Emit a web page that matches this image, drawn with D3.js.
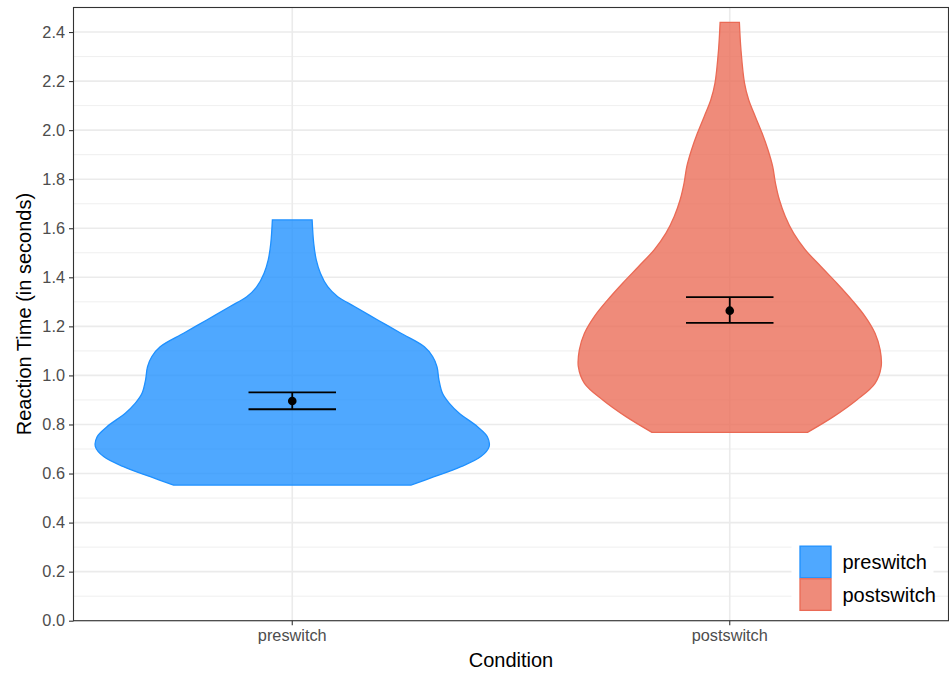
<!DOCTYPE html>
<html>
<head>
<meta charset="utf-8">
<script src="https://cdn.jsdelivr.net/npm/d3@7"></script>
<style>
  html, body { margin: 0; padding: 0; background: #fff; }
  svg { display: block; font-family: "Liberation Sans", Arial, Helvetica, sans-serif; }
</style>
</head>
<body>
<svg id="chart" width="949" height="675"></svg>
<script>
// Conditions shown on the x axis
const conditions = ["preswitch", "postswitch"];

// Violin outlines: reaction time (s) and relative density at that time
const preswitchRT = [1.634, 1.539, 1.471, 1.417, 1.362, 1.321, 1.281, 1.226, 1.172, 1.117, 1.077, 1.036,
                     0.982, 0.927, 0.887, 0.846, 0.791, 0.750, 0.710, 0.669, 0.628, 0.587, 0.553];
const preswitchDensity = [0.101, 0.109, 0.122, 0.143, 0.180, 0.231, 0.316, 0.434, 0.552, 0.671, 0.713, 0.735,
                          0.745, 0.763, 0.797, 0.848, 0.941, 0.991, 1.000, 0.958, 0.857, 0.721, 0.603];

const postswitchRT = [2.439, 2.327, 2.192, 2.124, 2.055, 1.988, 1.920, 1.852, 1.784, 1.716, 1.648, 1.580,
                      1.512, 1.444, 1.376, 1.308, 1.240, 1.172, 1.104, 1.036, 0.968, 0.900, 0.832, 0.768];
const postswitchDensity = [0.049, 0.057, 0.075, 0.096, 0.130, 0.164, 0.194, 0.218, 0.232, 0.252, 0.282, 0.324,
                           0.384, 0.463, 0.544, 0.620, 0.688, 0.738, 0.764, 0.769, 0.738, 0.645, 0.527, 0.395];

// Mean reaction time with lower / upper error bounds
const meanRT = [0.896, 1.264];
const lowerRT = [0.862, 1.214];
const upperRT = [0.931, 1.319];

// Y axis ticks
const yTicks = [0.0, 0.2, 0.4, 0.6, 0.8, 1.0, 1.2, 1.4, 1.6, 1.8, 2.0, 2.2, 2.4];
const yMinorTicks = [0.1, 0.3, 0.5, 0.7, 0.9, 1.1, 1.3, 1.5, 1.7, 1.9, 2.1, 2.3];

const fills = ["#1E90FF", "#EA6A55"];
const fillOpacity = 0.78;

const violins = [
  preswitchRT.map((v, i) => ({ v, d: preswitchDensity[i] })),
  postswitchRT.map((v, i) => ({ v, d: postswitchDensity[i] }))
];

const svg = d3.select("#chart");
const W = 949, H = 675;
const margin = { left: 73.5, top: 7.5, right: 0.5, bottom: 54.3 };
const pw = W - margin.left - margin.right;
const ph = H - margin.top - margin.bottom;

const g = svg.append("g").attr("transform", `translate(${margin.left},${margin.top})`);

const x = d3.scaleBand().domain(conditions).range([0, pw]).paddingInner(0).paddingOuter(0);
const y = d3.scaleLinear().domain([0, 2.5]).range([ph, 0]);
const w = d3.scaleLinear().domain([0, 1]).range([0, x.bandwidth() * 0.45]);
const cx = c => x(c) + x.bandwidth() / 2;

// Grid lines
g.append("g").selectAll("line").data(yMinorTicks).join("line")
  .attr("x1", 0).attr("x2", pw).attr("y1", d => y(d)).attr("y2", d => y(d))
  .attr("stroke", "#EBEBEB").attr("stroke-width", 0.8);
g.append("g").selectAll("line").data(yTicks).join("line")
  .attr("x1", 0).attr("x2", pw).attr("y1", d => y(d)).attr("y2", d => y(d))
  .attr("stroke", "#EBEBEB").attr("stroke-width", 1.6);
g.append("g").selectAll("line").data(conditions).join("line")
  .attr("x1", d => cx(d)).attr("x2", d => cx(d)).attr("y1", 0).attr("y2", ph)
  .attr("stroke", "#EBEBEB").attr("stroke-width", 1.6);

// Violins
violins.forEach((pts, i) => {
  const c = cx(conditions[i]);
  const area = d3.area()
    .y(d => y(d.v))
    .x0(d => c - w(d.d))
    .x1(d => c + w(d.d))
    .curve(d3.curveCatmullRom.alpha(0.5));
  g.append("path")
    .datum(pts)
    .attr("d", area)
    .attr("fill", fills[i])
    .attr("fill-opacity", fillOpacity)
    .attr("stroke", fills[i])
    .attr("stroke-width", 1.3);
});

// Error bars and means
const ebHalf = x.bandwidth() * 0.1;
conditions.forEach((c, i) => {
  const xc = cx(c);
  const eb = g.append("g").attr("stroke", "#000").attr("stroke-width", 1.8);
  eb.append("line").attr("x1", xc).attr("x2", xc).attr("y1", y(lowerRT[i])).attr("y2", y(upperRT[i]));
  eb.append("line").attr("x1", xc - ebHalf).attr("x2", xc + ebHalf).attr("y1", y(upperRT[i])).attr("y2", y(upperRT[i]));
  eb.append("line").attr("x1", xc - ebHalf).attr("x2", xc + ebHalf).attr("y1", y(lowerRT[i])).attr("y2", y(lowerRT[i]));
  g.append("circle").attr("cx", xc).attr("cy", y(meanRT[i])).attr("r", 4.3).attr("fill", "#000");
});

// Legend
const legend = g.append("g").attr("transform", `translate(${pw - 159}, ${y(0.31) - 2})`);
legend.append("rect").attr("x", 2).attr("y", 0).attr("width", 142).attr("height", 70).attr("fill", "#fff");
conditions.forEach((c, i) => {
  const ly = 3 + i * 32.6;
  legend.append("rect")
    .attr("x", 10.5).attr("y", ly + 0.5).attr("width", 31).attr("height", 31.6)
    .attr("fill", fills[i]).attr("fill-opacity", fillOpacity)
    .attr("stroke", fills[i]).attr("stroke-width", 1.3);
  legend.append("text")
    .attr("x", 53).attr("y", ly + 16.5).attr("dy", "0.35em")
    .attr("font-size", 20).attr("fill", "#000").text(c);
});

// Panel border
g.append("rect").attr("x", 0).attr("y", 0).attr("width", pw).attr("height", ph)
  .attr("fill", "none").attr("stroke", "#333").attr("stroke-width", 1.1);

// Axes
const yAxis = g.append("g")
  .call(d3.axisLeft(y).tickValues(yTicks).tickFormat(d3.format(".1f")).tickSize(4.5).tickPadding(4));
const xAxis = g.append("g").attr("transform", `translate(0,${ph})`)
  .call(d3.axisBottom(x).tickSize(4.5).tickPadding(4));
[yAxis, xAxis].forEach(a => {
  a.select(".domain").remove();
  a.selectAll(".tick line").attr("stroke", "#333").attr("stroke-width", 1.1);
  a.selectAll(".tick text").attr("fill", "#4D4D4D").attr("font-size", 16.3)
    .attr("font-family", "Liberation Sans, Arial, sans-serif");
});

// Axis titles
svg.append("text")
  .attr("x", margin.left + pw / 2).attr("y", 667)
  .attr("text-anchor", "middle").attr("font-size", 20).attr("fill", "#000")
  .text("Condition");
svg.append("text")
  .attr("transform", `translate(31,${margin.top + ph / 2}) rotate(-90)`)
  .attr("text-anchor", "middle").attr("font-size", 20).attr("fill", "#000")
  .text("Reaction Time (in seconds)");
</script>
</body>
</html>
